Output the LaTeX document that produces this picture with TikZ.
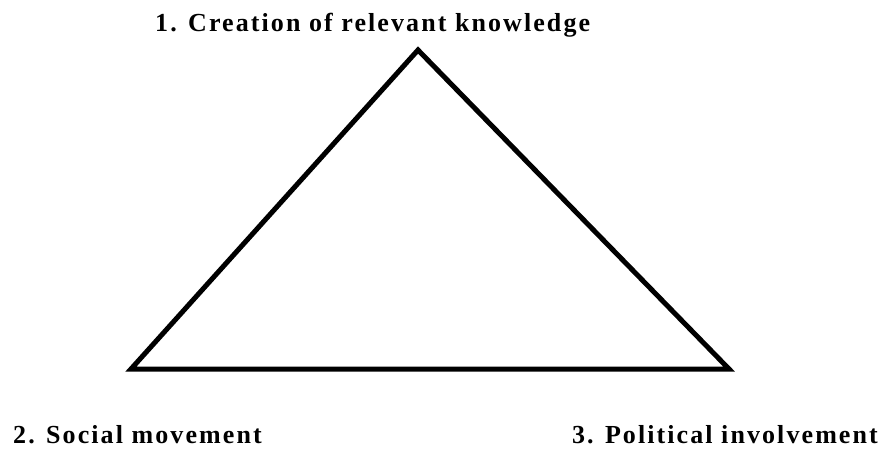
\documentclass[tikz,border=0pt]{standalone}
\usepackage{fontspec}
\setmainfont[LetterSpace=8]{Liberation Serif}
\begin{document}
\begin{tikzpicture}[x=1pt,y=-1pt]
 \tikzset{lbl/.style={inner sep=0pt, font=\fontsize{26}{26}\selectfont\bfseries}}
 \useasboundingbox[fill=white] (0,0) rectangle (883,450);

 \coordinate (top) at (418,50);
 \coordinate (left) at (131,369);
 \coordinate (right) at (729,369);
 \draw[line width=5pt, miter limit=10](top)--(left)--(right)--cycle;

 \node[lbl, anchor=base west] (know) at (155,31){1. Creation of relevant knowledge};
 \node[lbl, anchor=base west] (social) at (13,443){2. Social movement};
 \node[lbl, anchor=base east] (polit) at (878,443){3. Political involvement};

\end{tikzpicture}
\end{document}
